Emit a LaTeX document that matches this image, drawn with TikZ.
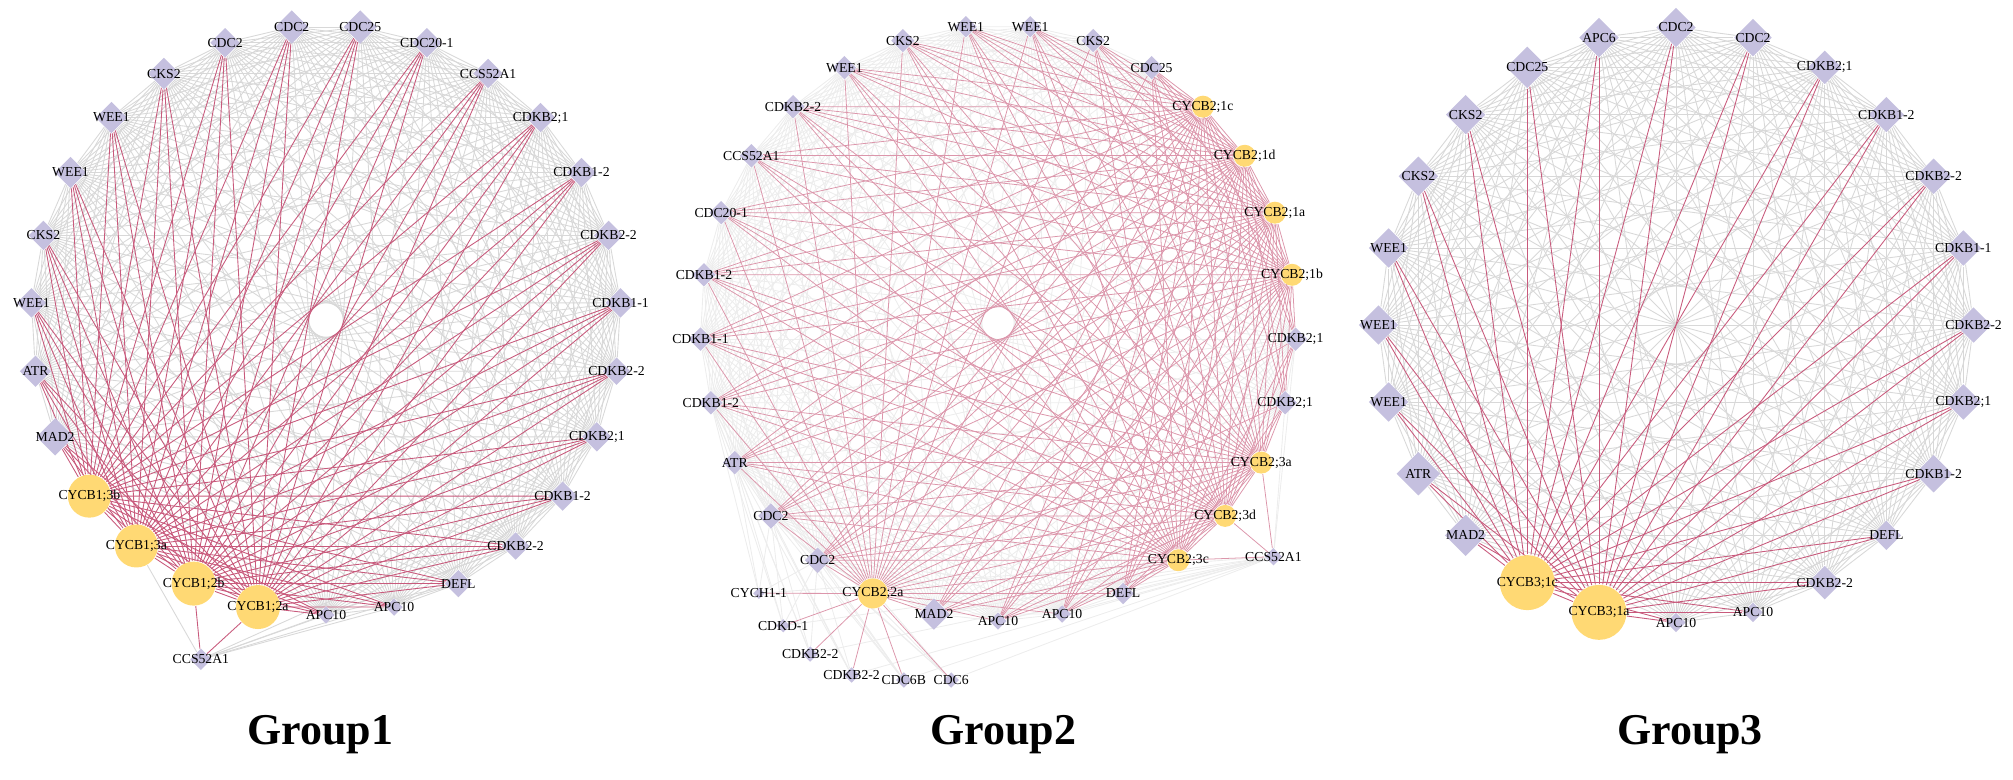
\documentclass[tikz,border=0pt]{standalone}
\usepackage{fontspec}
\setmainfont{Liberation Serif}
\usepackage{amsmath}
\usetikzlibrary{shapes.geometric}

\pgfdeclarelayer{edges}
\pgfsetlayers{edges,main}

\definecolor{genefill}{HTML}{C5C0DF}
\definecolor{cycfill}{HTML}{FFD974}
\definecolor{redline}{HTML}{C85A7C}
\definecolor{pinkline}{HTML}{DC96AB}
\definecolor{grayline}{HTML}{D8D8D8}
\definecolor{paleline}{HTML}{EDEDED}

\begin{document}
\begin{tikzpicture}[x=0.01cm, y=-0.01cm,
	gene/.style={diamond, fill=genefill, inner sep=0pt, minimum size=#1*0.01cm},
	cyc/.style={circle, fill=cycfill, inner sep=0pt, minimum size=#1*0.01cm},
	lbl/.style={font=\fontsize{3.9}{4}\selectfont, inner sep=0pt},
	title/.style={font=\fontsize{12.5}{14}\selectfont\bfseries, inner sep=0pt},
	gedge/.style={draw=grayline, line width=0.25pt},
	redge/.style={draw=redline, line width=0.25pt},
	pgedge/.style={draw=paleline, line width=0.25pt},
	pedge/.style={draw=pinkline, line width=0.22pt}]

	\useasboundingbox (0,0) rectangle (2013,779);

	% Group1
	\foreach \i/\lab/\sz/\t in {0/CDC25/34/0, 1/CDC20-1/30/0, 2/CCS52A1/30/0, 3/CDKB2;1/30/0,
		4/CDKB1-2/30/0, 5/CDKB2-2/30/0, 6/CDKB1-1/30/0, 7/CDKB2-2/28/0, 8/CDKB2;1/30/0,
		9/CDKB1-2/30/0, 10/CDKB2-2/28/0, 11/DEFL/28/0, 12/APC10/18/0, 13/APC10/18/0,
		14/CYCB1;2a/44/1, 15/CYCB1;2b/44/1, 16/CYCB1;3a/43/1, 17/CYCB1;3b/43/1,
		18/MAD2/38/0, 19/ATR/32/0, 20/WEE1/30/0, 21/CKS2/30/0, 22/WEE1/32/0,
		23/WEE1/32/0, 24/CKS2/32/0, 25/CDC2/30/0, 26/CDC2/34/0}{
		\pgfmathsetmacro\a{83.333-13.3333*\i}
		\ifnum\t=1
			\node[cyc=\sz] (g1n\i) at ({326+295*cos(\a)},{320-295*sin(\a)}) {};
		\else
			\node[gene=\sz] (g1n\i) at ({326+295*cos(\a)},{320-295*sin(\a)}) {};
		\fi
		\node[lbl] (g1l\i) at (g1n\i) {\lab};
		\expandafter\xdef\csname gA\i\endcsname{\t}
	}
	\node[gene=22] (g1x) at (200.9,659.3) {};
	\node[lbl] (g1xl) at (g1x) {CCS52A1};

	% Group2
	\foreach \i/\lab/\sz/\t in {0/WEE1/22/0, 1/CKS2/24/0, 2/CDC25/24/0, 3/CYCB2;1c/22/1,
		4/CYCB2;1d/22/1, 5/CYCB2;1a/22/1, 6/CYCB2;1b/22/1, 7/CDKB2;1/24/0, 8/CDKB2;1/24/0,
		9/CYCB2;3a/22/1, 10/CYCB2;3d/22/1, 11/CYCB2;3c/22/1, 12/DEFL/22/0, 13/APC10/18/0,
		14/APC10/18/0, 15/MAD2/32/0, 16/CYCB2;2a/30/1, 17/CDC2/26/0, 18/CDC2/26/0,
		19/ATR/24/0, 20/CDKB1-2/24/0, 21/CDKB1-1/24/0, 22/CDKB1-2/24/0, 23/CDC20-1/24/0,
		24/CCS52A1/24/0, 25/CDKB2-2/24/0, 26/WEE1/24/0, 27/CKS2/24/0, 28/WEE1/22/0}{
		\pgfmathsetmacro\a{83.793-12.4138*\i}
		\ifnum\t=1
			\node[cyc=\sz] (g2n\i) at ({998+298*cos(\a)},{323-298*sin(\a)}) {};
		\else
			\node[gene=\sz] (g2n\i) at ({998+298*cos(\a)},{323-298*sin(\a)}) {};
		\fi
		\node[lbl] (g2l\i) at (g2n\i) {\lab};
		\expandafter\xdef\csname gB\i\endcsname{\t}
	}
	\foreach \k/\lab/\px/\py/\sz in {1/CYCH1-1/758.9/593.3/12, 2/CDKD-1/783.2/625.7/14,
		3/CDKB2-2/810.2/654/16, 4/CDKB2-2/851.6/675/16, 5/CDC6B/903.8/680/16,
		6/CDC6/951.2/680/16, 7/CCS52A1/1273.4/556.7/18}{
		\node[gene=\sz] (g2x\k) at (\px,\py) {};
		\node[lbl] (g2xl\k) at (g2x\k) {\lab};
	}

	% Group3
	\foreach \i/\lab/\sz/\t in {0/CDC2/40/0, 1/CDC2/38/0, 2/CDKB2;1/34/0, 3/CDKB1-2/36/0,
		4/CDKB2-2/36/0, 5/CDKB1-1/36/0, 6/CDKB2-2/36/0, 7/CDKB2;1/36/0, 8/CDKB1-2/38/0,
		9/DEFL/30/0, 10/CDKB2-2/34/0, 11/APC10/20/0, 12/APC10/20/0, 13/CYCB3;1a/55/1,
		14/CYCB3;1c/55/1, 15/MAD2/42/0, 16/ATR/44/0, 17/WEE1/40/0, 18/WEE1/40/0,
		19/WEE1/40/0, 20/CKS2/40/0, 21/CKS2/40/0, 22/CDC25/42/0, 23/APC6/40/0}{
		\pgfmathsetmacro\a{90-15*\i}
		\ifnum\t=1
			\node[cyc=\sz] (g3n\i) at ({1676+297.5*cos(\a)},{325-297.5*sin(\a)}) {};
		\else
			\node[gene=\sz] (g3n\i) at ({1676+297.5*cos(\a)},{325-297.5*sin(\a)}) {};
		\fi
		\node[lbl] (g3l\i) at (g3n\i) {\lab};
		\expandafter\xdef\csname gC\i\endcsname{\t}
	}

	\begin{pgfonlayer}{edges}
		% gray links first
		\foreach \i in {0,...,25}{
			\pgfmathtruncatemacro\js{\i+1}
			\foreach \j in {\js,...,26}{
				\ifnum\numexpr\csname gA\i\endcsname+\csname gA\j\endcsname\relax=0
					\draw[gedge] (g1n\i) -- (g1n\j);
				\fi
			}
		}
		\foreach \j in {16,13,12,11,10,9} \draw[gedge] (g1x) -- (g1n\j);
		\foreach \i in {0,...,27}{
			\pgfmathtruncatemacro\js{\i+1}
			\foreach \j in {\js,...,28}{
				\ifnum\numexpr\csname gB\i\endcsname+\csname gB\j\endcsname\relax=0
					\draw[pgedge] (g2n\i) -- (g2n\j);
				\fi
			}
		}
		\foreach \k in {1,...,6}{
			\foreach \j in {17,18,19,20} \draw[pgedge] (g2x\k) -- (g2n\j);
			\draw[pgedge] (g2x\k) -- (g2x7);
		}
		\foreach \j in {7,8,12,13,14,15} \draw[pgedge] (g2x7) -- (g2n\j);
		\foreach \i in {0,...,22}{
			\pgfmathtruncatemacro\js{\i+1}
			\foreach \j in {\js,...,23}{
				\ifnum\numexpr\csname gC\i\endcsname+\csname gC\j\endcsname\relax=0
					\draw[gedge] (g3n\i) -- (g3n\j);
				\fi
			}
		}
		% links of the cyclins
		\foreach \i in {0,...,25}{
			\pgfmathtruncatemacro\js{\i+1}
			\foreach \j in {\js,...,26}{
				\ifnum\numexpr\csname gA\i\endcsname+\csname gA\j\endcsname\relax>0
					\draw[redge] (g1n\i) -- (g1n\j);
				\fi
			}
		}
		\foreach \j in {14,15} \draw[redge] (g1x) -- (g1n\j);
		\foreach \i in {0,...,27}{
			\pgfmathtruncatemacro\js{\i+1}
			\foreach \j in {\js,...,28}{
				\ifnum\numexpr\csname gB\i\endcsname+\csname gB\j\endcsname\relax>0
					\draw[pedge] (g2n\i) -- (g2n\j);
				\fi
			}
		}
		\foreach \k in {1,...,6} \draw[pedge] (g2x\k) -- (g2n16);
		\foreach \j in {9,10,11} \draw[pedge] (g2x7) -- (g2n\j);
		\foreach \i in {0,...,22}{
			\pgfmathtruncatemacro\js{\i+1}
			\foreach \j in {\js,...,23}{
				\ifnum\numexpr\csname gC\i\endcsname+\csname gC\j\endcsname\relax>0
					\draw[redge] (g3n\i) -- (g3n\j);
				\fi
			}
		}
	\end{pgfonlayer}

	\node[title] (t1) at (320.5,735) {Group1};
	\node[title] (t2) at (1003.5,735) {Group2};
	\node[title] (t3) at (1690,735) {Group3};

\end{tikzpicture}
\end{document}
